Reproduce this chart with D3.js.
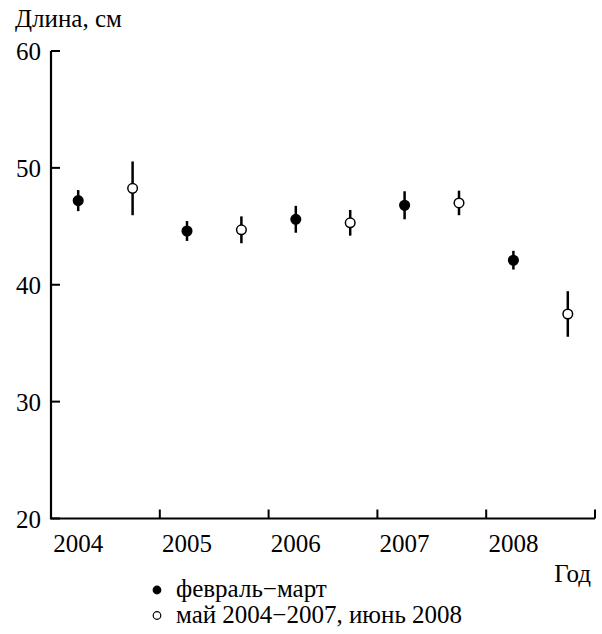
<!DOCTYPE html>
<html>
<head>
<meta charset="utf-8">
<script src="https://cdn.jsdelivr.net/npm/d3@7"></script>
<style>
  svg text { font-family: "Liberation Serif" !important; }
</style>
</head>
<body style="margin:0">
<svg width="602" height="634"></svg>
<script>
const svg = d3.select("svg");

// data
const years = [2004, 2005, 2006, 2007, 2008];
const febMarMean = [47.2, 44.6, 45.6, 46.8, 42.1];
const febMarErr  = [0.9, 0.85, 1.15, 1.2, 0.8];
const mayJunMean = [48.25, 44.7, 45.3, 47.0, 37.5];
const mayJunErr  = [2.3, 1.15, 1.1, 1.05, 1.95];
const yTicks = [20, 30, 40, 50, 60];
const legendLabels = ["февраль\u2212март", "май 2004\u22122007, июнь 2008"];

const x = d3.scaleLinear()
    .domain([2003.75, 2008.75])
    .range([51, 595]);

const y = d3.scaleLinear()
    .domain([20, 60])
    .range([518.5, 51]);

const series = [
  {offset: 0,   mean: febMarMean, err: febMarErr, fill: "#000"},
  {offset: 0.5, mean: mayJunMean, err: mayJunErr, fill: "#fff"}
];

function serif(sel) {
  sel.style("font-family", "'Liberation Serif'", "important")
     .style("font-size", "25px");
}

// y ticks pointing inward
svg.selectAll(".ytick")
  .data(yTicks)
  .join("line")
    .attr("x1", 51).attr("x2", 60)
    .attr("y1", d => y(d)).attr("y2", d => y(d))
    .attr("stroke", "#000")
    .attr("stroke-width", 2);

// x ticks (year boundaries) pointing inward
svg.selectAll(".xtick")
  .data(years)
  .join("line")
    .attr("x1", d => x(d + 0.75)).attr("x2", d => x(d + 0.75))
    .attr("y1", y(20)).attr("y2", y(20) - 9)
    .attr("stroke", "#000")
    .attr("stroke-width", 2);

// left and bottom frame lines
svg.append("path")
    .attr("d", `M${x.range()[0]},${y(60)}V${y(20)}H${x.range()[1]}`)
    .attr("fill", "none")
    .attr("stroke", "#000")
    .attr("stroke-width", 2.2);

svg.selectAll(".ylab")
  .data(yTicks)
  .join("text")
    .attr("x", 41)
    .attr("y", d => y(d) + 9)
    .attr("text-anchor", "end")
    .call(serif)
    .text(d => d);

svg.selectAll(".xlab")
  .data(years)
  .join("text")
    .attr("x", d => x(d))
    .attr("y", 552)
    .attr("text-anchor", "middle")
    .call(serif)
    .text(d => d);

svg.append("text")
    .attr("x", 15).attr("y", 27)
    .call(serif)
    .text("Длина, см");

svg.append("text")
    .attr("x", 591).attr("y", 582)
    .attr("text-anchor", "end")
    .call(serif)
    .text("Год");

// error bars and points
series.forEach(s => {
  const g = svg.append("g");
  g.selectAll("line")
    .data(years)
    .join("line")
      .attr("x1", d => x(d + s.offset))
      .attr("x2", d => x(d + s.offset))
      .attr("y1", (d, i) => y(s.mean[i] + s.err[i]))
      .attr("y2", (d, i) => y(s.mean[i] - s.err[i]))
      .attr("stroke", "#000")
      .attr("stroke-width", 2.5);
  g.selectAll("circle")
    .data(years)
    .join("circle")
      .attr("cx", d => x(d + s.offset))
      .attr("cy", (d, i) => y(s.mean[i]))
      .attr("r", 4.8)
      .attr("fill", s.fill)
      .attr("stroke", "#000")
      .attr("stroke-width", 1.5);
});

// legend
const legend = svg.append("g");
legend.selectAll("circle")
  .data(series)
  .join("circle")
    .attr("cx", 157)
    .attr("cy", (d, i) => 590 + i * 25.5)
    .attr("r", 3.8)
    .attr("fill", d => d.fill)
    .attr("stroke", "#000")
    .attr("stroke-width", 1.2);
legend.selectAll("text")
  .data(legendLabels)
  .join("text")
    .attr("x", 176)
    .attr("y", (d, i) => 597 + i * 25.5)
    .call(serif)
    .text(d => d);
</script>
</body>
</html>
